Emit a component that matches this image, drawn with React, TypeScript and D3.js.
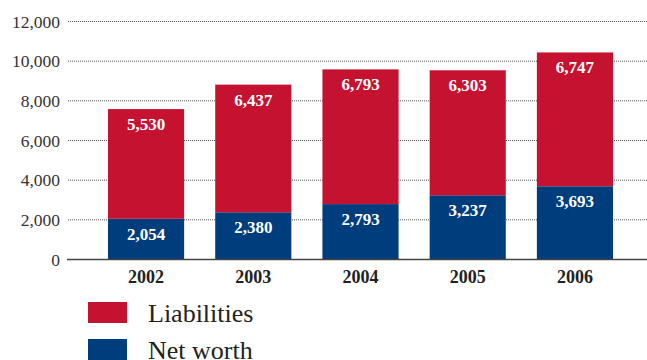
import React from "react";
import * as d3 from "d3";

const years = ["2002", "2003", "2004", "2005", "2006"];
const netWorth = [2054, 2380, 2793, 3237, 3693];
const liabilities = [5530, 6437, 6793, 6303, 6747];
const yTicks = [0, 2000, 4000, 6000, 8000, 10000, 12000];
const seriesNames = ["Liabilities", "Net worth"];
const colors = { liabilities: "#C41230", netWorth: "#003D7C" };

const W = 647;
const H = 360;
const FONT = "'Liberation Serif', 'Times New Roman', serif";

export default function App() {
  const x = d3.scaleBand<string>().domain(years).range([108, 613]).paddingInner(0.29).paddingOuter(0);
  const y = d3.scaleLinear().domain([0, 12000]).range([259.5, 21.5]);
  const fmt = d3.format(",");
  const stackData = years.map((yr, i) => ({ year: yr, netWorth: netWorth[i], liabilities: liabilities[i] }));
  const stack = d3.stack<any>().keys(["netWorth", "liabilities"])(stackData);

  return (
    <svg width={W} height={H} style={{ position: "absolute", left: 0, top: 0 }} fontFamily={FONT}>
      <rect width={W} height={H} fill="#fff" />
      {yTicks.filter((t) => t > 0).map((t) => (
        <line key={t} x1={68} x2={W} y1={y(t)} y2={y(t)} stroke="#555" strokeWidth={1} strokeDasharray="1,1" />
      ))}
      {yTicks.map((t) => (
        <text key={t} x={60} y={y(t)} dy="0.35em" textAnchor="end" fontSize={17.5} fill="#333">
          {fmt(t)}
        </text>
      ))}
      {stack.map((layer) =>
        layer.map((d, i) => (
          <rect
            key={layer.key + i}
            x={x(years[i])}
            width={x.bandwidth()}
            y={y(d[1])}
            height={y(d[0]) - y(d[1])}
            fill={layer.key === "netWorth" ? colors.netWorth : colors.liabilities}
          />
        ))
      )}
      {stack.map((layer) =>
        layer.map((d, i) => (
          <text
            key={"l" + layer.key + i}
            x={(x(years[i]) as number) + x.bandwidth() / 2}
            y={y(d[1]) + 21}
            textAnchor="middle"
            fontSize={17}
            fontWeight="bold"
            fill="#fff"
          >
            {fmt(d[1] - d[0])}
          </text>
        ))
      )}
      <line x1={67} x2={W} y1={y(0)} y2={y(0)} stroke="#444" strokeWidth={1.5} />
      {years.map((yr) => (
        <text
          key={yr}
          x={(x(yr) as number) + x.bandwidth() / 2}
          y={283}
          textAnchor="middle"
          fontSize={18}
          fontWeight="bold"
          fill="#222"
        >
          {yr}
        </text>
      ))}
      {seriesNames.map((name, i) => (
        <g key={name} transform={`translate(88, ${302 + i * 37})`}>
          <rect width={39} height={21} fill={i === 0 ? colors.liabilities : colors.netWorth} />
          <text x={60} y={20} fontSize={26} fill="#222">
            {name}
          </text>
        </g>
      ))}
    </svg>
  );
}
